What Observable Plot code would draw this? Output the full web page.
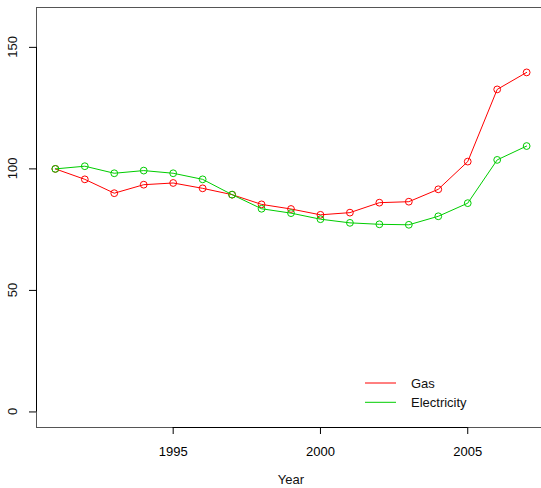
<!DOCTYPE html>
<html>
<head>
<meta charset="utf-8">
<script src="https://cdn.jsdelivr.net/npm/d3@7"></script>
<script src="https://cdn.jsdelivr.net/npm/@observablehq/plot@0.6"></script>
<style>
  html, body { margin: 0; padding: 0; background: white; }
  #chart { width: 541px; height: 488px; overflow: hidden; }
</style>
</head>
<body>
<div id="chart"></div>
<script>
const years = [1991,1992,1993,1994,1995,1996,1997,1998,1999,2000,2001,2002,2003,2004,2005,2006,2007];
const gas = [100, 95.7, 90.0, 93.5, 94.2, 92.0, 89.4, 85.4, 83.5, 81.1, 82.0, 86.1, 86.5, 91.6, 103.0, 132.7, 139.7];
const electricity = [100, 101.1, 98.2, 99.3, 98.2, 95.7, 89.4, 83.6, 81.8, 79.3, 77.8, 77.2, 77.0, 80.5, 85.9, 103.7, 109.4];
const seriesNames = ["Gas", "Electricity"];
const seriesColors = ["#FF0000", "#00CD00"];
const xTicks = [1995, 2000, 2005];
const yTicks = [0, 50, 100, 150];
const yLimits = [0, 160];

// R-style 4% padding of the axis ranges
const xr = years[years.length - 1] - years[0];
const xDomain = [years[0] - 0.04 * xr, years[years.length - 1] + 0.04 * xr];
const yr = yLimits[1] - yLimits[0];
const yDomain = [yLimits[0] - 0.04 * yr, yLimits[1] + 0.04 * yr];

const idx = years.map((_, i) => i);
const seriesValues = [gas, electricity];

const seriesMarks = seriesValues.flatMap((vals, s) => [
  Plot.line(idx, {x: i => years[i], y: i => vals[i], stroke: seriesColors[s], strokeWidth: 1}),
  Plot.dot(idx, {x: i => years[i], y: i => vals[i], stroke: seriesColors[s], r: 3.4, strokeWidth: 1, fill: "none"})
]);

const FONT = "'Liberation Sans', Arial, sans-serif";

const chart = Plot.plot({
  width: 541,
  height: 488,
  marginLeft: 36,
  marginTop: 7,
  marginBottom: 61,
  marginRight: -4,
  style: {fontFamily: FONT, fontSize: "13px", background: "white", overflow: "visible"},
  x: {domain: xDomain, label: null},
  y: {domain: yDomain, label: null},
  marks: [
    Plot.frame({stroke: "#555", strokeWidth: 1}),
    Plot.ruleX([xDomain[0]], {y1: yTicks[0], y2: yTicks[yTicks.length - 1], stroke: "black"}),
    Plot.ruleY([yDomain[0]], {x1: xTicks[0], x2: xTicks[xTicks.length - 1], stroke: "black"}),
    Plot.axisX({ticks: xTicks, tickSize: 7, tickPadding: 12, tickFormat: d => String(d), label: null, fontSize: 13}),
    Plot.axisY({ticks: yTicks, tickSize: 7, tickFormat: () => "", label: null}),
    Plot.text(["Year"], {frameAnchor: "bottom", dy: 56, fontSize: 13, fill: "#111"}),
    ...seriesMarks
  ]
});
document.getElementById("chart").appendChild(chart);

const svg = d3.select(chart);
const yScale = chart.scale("y");

// rotated y tick labels (R las=0 style), positioned through Plot's y scale
const yl = svg.append("g").attr("font-family", FONT).attr("font-size", 13).attr("fill", "#111")
  .attr("text-anchor", "middle");
yTicks.forEach(v => {
  const y = yScale.apply(v);
  yl.append("text")
    .attr("transform", `translate(17,${y}) rotate(-90)`)
    .text(String(v));
});

// legend inside the plot area (R legend, no box)
const lg = svg.append("g").attr("font-family", FONT).attr("font-size", 13).attr("text-anchor", "start");
seriesNames.forEach((name, k) => {
  const y = 383 + k * 19.3;
  lg.append("line").attr("x1", 365).attr("x2", 396).attr("y1", y).attr("y2", y)
    .attr("stroke", seriesColors[k]).attr("stroke-width", 1);
  lg.append("text").attr("x", 411).attr("y", y).attr("dy", "0.35em").attr("fill", "#111")
    .attr("text-anchor", "start").text(name);
});
</script>
</body>
</html>
